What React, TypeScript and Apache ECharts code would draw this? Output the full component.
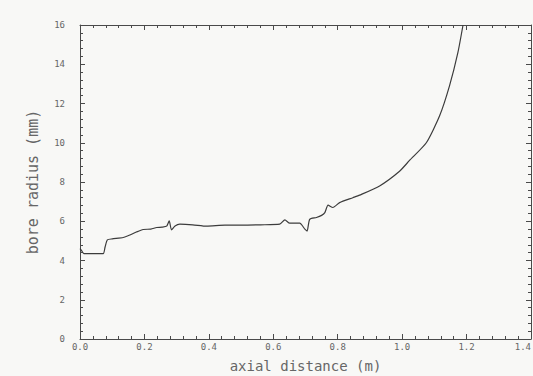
import React, { useEffect, useRef } from "react";
import * as echarts from "echarts";

// Bore profile: axial distance (m) vs bore radius (mm)
const axialDistance = [
  0.0, 0.005, 0.012, 0.04, 0.072, 0.078, 0.085, 0.1, 0.134, 0.155, 0.175, 0.196,
  0.22, 0.238, 0.255, 0.269, 0.277, 0.284, 0.295, 0.31, 0.35, 0.393, 0.45, 0.506,
  0.56, 0.62, 0.636, 0.651, 0.682, 0.698, 0.705, 0.713, 0.734, 0.75, 0.76, 0.77,
  0.785, 0.806, 0.847, 0.868, 0.93, 0.992, 1.023, 1.075, 1.116, 1.147, 1.173, 1.189,
];
const boreRadius = [
  4.6, 4.5, 4.35, 4.35, 4.35, 4.7, 5.05, 5.1, 5.17, 5.3, 5.45, 5.58,
  5.6, 5.68, 5.7, 5.75, 6.02, 5.56, 5.76, 5.85, 5.82, 5.75, 5.8, 5.8,
  5.82, 5.85, 6.07, 5.9, 5.9, 5.6, 5.5, 6.1, 6.19, 6.3, 6.44, 6.82,
  6.7, 6.95, 7.2, 7.33, 7.8, 8.55, 9.1, 10.0, 11.36, 12.9, 14.59, 16.0,
];

const X_MIN = 0;
const X_MAX = 1.4;
const X_STEP = 0.2;
const Y_MIN = 0;
const Y_MAX = 16;
const Y_STEP = 2;

const ink = "#4a4a4a";
const labelColor = "#666666";
const mono = "'DejaVu Sans Mono', monospace";

export default function App() {
  const ref = useRef<HTMLDivElement>(null);

  useEffect(() => {
    if (!ref.current) return;
    const chart = echarts.init(ref.current, null, { renderer: "svg" });

    const axisLine = { show: true, onZero: false, lineStyle: { color: ink, width: 1 } };
    const axisTick = { show: true, inside: true, length: 5, lineStyle: { color: ink } };
    const minorTick = { show: true, splitNumber: 5, length: 3, lineStyle: { color: ink } };

    chart.setOption({
      animation: false,
      backgroundColor: "#f8f8f6",
      grid: {
        left: 80,
        right: 2,
        top: 25,
        bottom: 37,
        containLabel: false,
        outerBoundsMode: "none",
      },
      xAxis: [
        {
          type: "value",
          position: "bottom",
          min: X_MIN,
          max: X_MAX,
          interval: X_STEP,
          name: "axial distance (m)",
          nameLocation: "middle",
          nameGap: 20,
          nameTextStyle: { fontFamily: mono, fontSize: 14, color: labelColor },
          axisLine,
          axisTick,
          minorTick,
          splitLine: { show: false },
          axisLabel: {
            fontFamily: mono,
            fontSize: 9,
            color: labelColor,
            margin: 3,
            alignMaxLabel: "right",
            formatter: (v: number) => v.toFixed(1),
          },
        },
        {
          type: "value",
          position: "top",
          min: X_MIN,
          max: X_MAX,
          interval: X_STEP,
          axisLine,
          axisTick,
          minorTick,
          splitLine: { show: false },
          axisLabel: { show: false },
        },
      ],
      yAxis: [
        {
          type: "value",
          position: "left",
          min: Y_MIN,
          max: Y_MAX,
          interval: Y_STEP,
          name: "bore radius (mm)",
          nameLocation: "middle",
          nameGap: 40,
          nameTextStyle: { fontFamily: mono, fontSize: 15, color: labelColor },
          axisLine,
          axisTick,
          minorTick,
          splitLine: { show: false },
          axisLabel: { fontFamily: mono, fontSize: 9, color: labelColor, margin: 15 },
        },
        {
          type: "value",
          position: "right",
          min: Y_MIN,
          max: Y_MAX,
          interval: Y_STEP,
          axisLine,
          axisTick,
          minorTick,
          splitLine: { show: false },
          axisLabel: { show: false },
        },
      ],
      series: [
        {
          type: "line",
          xAxisIndex: 0,
          yAxisIndex: 0,
          data: axialDistance.map((x, i) => [x, boreRadius[i]]),
          showSymbol: false,
          smooth: 0.2,
          lineStyle: { color: "#3c3c3c", width: 1.2 },
        },
      ],
    });

    return () => chart.dispose();
  }, []);

  return <div ref={ref} style={{ width: 533, height: 376, position: "absolute", left: 0, top: 0 }} />;
}
